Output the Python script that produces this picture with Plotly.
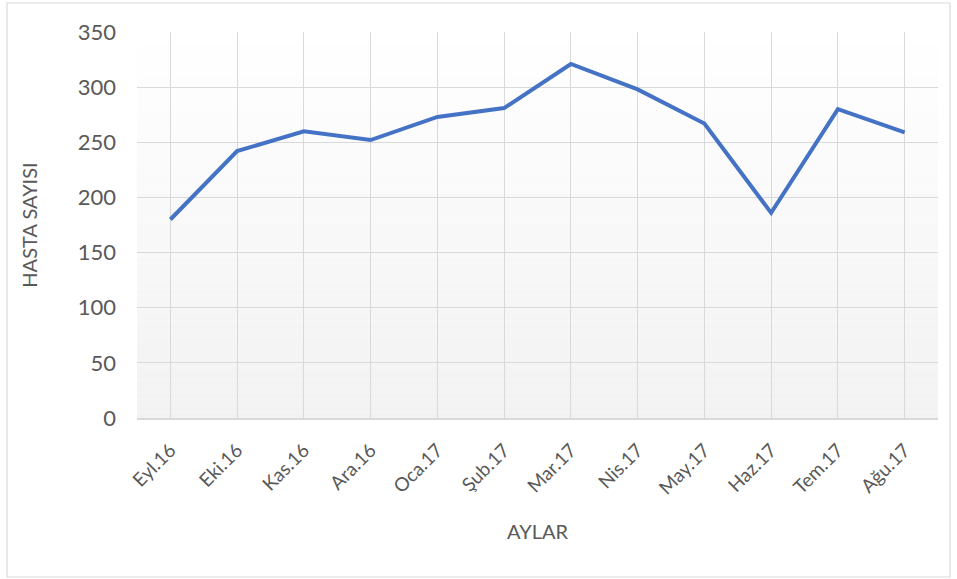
import plotly.graph_objects as go

months = ["Eyl.16", "Eki.16", "Kas.16", "Ara.16", "Oca.17", "Şub.17",
          "Mar.17", "Nis.17", "May.17", "Haz.17", "Tem.17", "Ağu.17"]
patients = [180, 242, 260, 252, 273, 281, 321, 298, 267, 186, 280, 259]
y_ticks = [0, 50, 100, 150, 200, 250, 300, 350]

W, H = 957, 579
L, R, T, B = 137, 19, 32, 161
pw, ph = W - L - R, H - T - B

FONT = "Lato"
TXT = "#595959"
GRID = "#d9d9d9"

fig = go.Figure()
fig.add_trace(go.Scatter(
    x=months, y=patients, mode="lines",
    line=dict(color="#4472C4", width=4),
    hoverinfo="x+y",
))

shapes = []
n = 60
for i in range(n):
    t = (i + 0.5) / n  # 0 at bottom, 1 at top
    c = round(242 + (255 - 242) * t)
    shapes.append(dict(
        type="rect", xref="x domain", yref="y domain",
        x0=0, x1=1, y0=i / n, y1=(i + 1) / n,
        fillcolor=f"rgb({c},{c},{c})", line=dict(width=0), layer="below",
    ))
# outer chart border
shapes.append(dict(
    type="rect", xref="paper", yref="paper",
    x0=(7 - L) / pw, x1=(950 - L) / pw,
    y0=(T + ph - 577) / ph, y1=(T + ph - 3) / ph,
    line=dict(color="#d9d9d9", width=1.2), fillcolor="rgba(0,0,0,0)", layer="above",
))

fig.update_layout(
    width=W, height=H,
    margin=dict(l=L, r=R, t=T, b=B, autoexpand=False),
    paper_bgcolor="white", plot_bgcolor="rgba(0,0,0,0)",
    showlegend=False,
    shapes=shapes,
    font=dict(family=FONT, color=TXT),
)
fig.update_xaxes(
    type="category", range=[-0.5, len(months) - 0.5],
    showgrid=True, gridcolor=GRID, gridwidth=1,
    showline=True, linecolor=GRID, linewidth=1.5,
    ticks="", tickangle=-45, ticklabelstandoff=12,
    tickfont=dict(size=19, color=TXT, family=FONT),
    title=dict(text="AYLAR", font=dict(size=20, color=TXT, family=FONT), standoff=27),
    zeroline=False, fixedrange=True,
)
fig.update_yaxes(
    range=[0, 350], tickvals=y_ticks,
    showgrid=True, gridcolor=GRID, gridwidth=1.2,
    showline=False, zeroline=False,
    ticks="", ticklabelstandoff=20,
    tickfont=dict(size=22, color=TXT, family=FONT),
    title=dict(text="HASTA SAYISI", font=dict(size=20, color=TXT, family=FONT), standoff=34),
    fixedrange=True,
)

fig.write_html("out.html", config={"displayModeBar": False},
               post_script="document.body.style.margin='0';")
